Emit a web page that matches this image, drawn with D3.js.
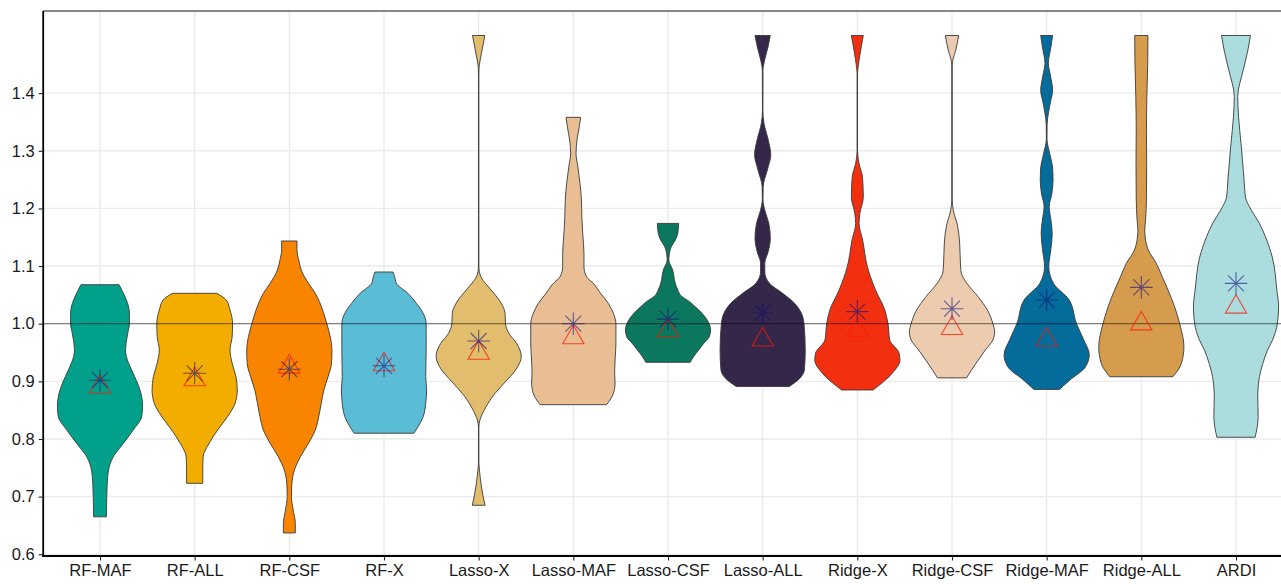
<!DOCTYPE html>
<html>
<head>
<meta charset="utf-8">
<script src="https://cdn.jsdelivr.net/npm/d3@7"></script>
<style>
  body { margin: 0; background: #fff; }
  text { font-family: "Liberation Sans", Arial, sans-serif; }
</style>
</head>
<body>
<svg id="chart" width="1281" height="584"></svg>
<script>
// Models compared, left to right
const categories = ["RF-MAF", "RF-ALL", "RF-CSF", "RF-X", "Lasso-X", "Lasso-MAF", "Lasso-CSF",
                    "Lasso-ALL", "Ridge-X", "Ridge-CSF", "Ridge-MAF", "Ridge-ALL", "ARDI"];
const fillColors = ["#00A08A", "#F2AD00", "#F98400", "#5BBCD6", "#E1BD6D", "#EABE94", "#0B775E",
                    "#35274A", "#F2300F", "#ECCBAE", "#046C9A", "#D69C4E", "#ABDDDE"];
// Mean (asterisk) and median (triangle) of each distribution
const meanValues   = [0.902, 0.914, 0.921, 0.927, 0.970, 1.000, 1.008, 1.019, 1.021, 1.026, 1.041, 1.063, 1.070];
const medianValues = [0.890, 0.903, 0.925, 0.929, 0.949, 0.976, 0.988, 0.972, 0.989, 0.992, 0.972, 1.000, 1.029];
const yTicks = [0.6, 0.7, 0.8, 0.9, 1.0, 1.1, 1.2, 1.3, 1.4];
const referenceValue = 1.0;

// Density profiles: [value, density relative to the widest violin]
const densRfMaf = [[1.0677,0.446],[1.0527,0.55],[1.035,0.65],[1.018,0.69],[1.0,0.69],[0.983,0.65],[0.954,0.6],
  [0.943,0.62],[0.92,0.74],[0.897,0.88],[0.873,0.98],[0.856,1.0],[0.839,0.98],[0.8156,0.78],[0.7925,0.55],
  [0.769,0.31],[0.746,0.2],[0.723,0.17],[0.665,0.15]];
const densRfAll = [[1.0527,0.52],[1.0411,0.74],[1.0238,0.83],[1.0,0.89],[0.9775,0.88],[0.9544,0.83],[0.9313,0.88],
  [0.908,0.97],[0.885,1.0],[0.862,0.95],[0.8387,0.77],[0.8156,0.54],[0.7925,0.34],[0.7693,0.2],[0.7462,0.19],[0.7231,0.19]];
const densRfCsf = [[1.1435,0.18],[1.128,0.18],[1.1105,0.22],[1.093,0.28],[1.07,0.45],[1.0527,0.61],[1.0238,0.78],
  [1.0,0.88],[0.9775,0.96],[0.9544,1.0],[0.9313,0.99],[0.908,0.91],[0.885,0.81],[0.862,0.75],[0.8387,0.69],
  [0.8156,0.61],[0.7925,0.45],[0.7693,0.26],[0.7462,0.12],[0.7231,0.06],[0.70,0.05],[0.6768,0.09],[0.6537,0.14],[0.637,0.14]];
const densRfX = [[1.0897,0.21],[1.0815,0.25],[1.07,0.29],[1.0527,0.56],[1.0354,0.76],[1.018,0.92],[1.0,0.99],
  [0.954,0.99],[0.908,0.98],[0.885,1.0],[0.862,0.98],[0.8387,0.92],[0.8213,0.8],[0.81,0.7]];
const densLassoX = [[1.5,0.145],[1.4749,0.08],[1.4575,0.035],[1.443,0.008],[1.43,0.004],[1.10,0.004],[1.0815,0.05],
  [1.07,0.16],[1.0527,0.36],[1.0354,0.53],[1.018,0.62],[1.0,0.63],[0.983,0.71],[0.966,0.89],[0.943,1.0],[0.92,0.87],
  [0.897,0.6],[0.873,0.32],[0.85,0.13],[0.833,0.03],[0.82,0.004],[0.76,0.004],[0.745,0.02],[0.72,0.06],[0.702,0.1],[0.685,0.15]];
const densLassoMaf = [[1.358,0.17],[1.3418,0.14],[1.3187,0.086],[1.2956,0.063],[1.2724,0.106],[1.2436,0.156],
  [1.2146,0.19],[1.1856,0.2],[1.1568,0.22],[1.1221,0.25],[1.099,0.25],[1.0815,0.31],[1.07,0.47],[1.0527,0.64],
  [1.0354,0.82],[1.018,0.94],[1.0,1.0],[0.966,1.0],[0.937,0.98],[0.914,0.97],[0.897,0.98],[0.879,0.94],[0.8676,0.86],[0.8595,0.78]];
const densLassoCsf = [[1.174,0.25],[1.157,0.23],[1.145,0.17],[1.134,0.08],[1.12,0.03],[1.1105,0.02],[1.093,0.11],
  [1.07,0.17],[1.0585,0.23],[1.0468,0.33],[1.0411,0.45],[1.0295,0.64],[1.018,0.8],[1.0064,0.92],[0.989,1.0],
  [0.9775,0.97],[0.966,0.84],[0.9544,0.72],[0.9428,0.6],[0.933,0.52]];
const densLassoAll = [[1.5,0.18],[1.48,0.125],[1.4575,0.047],[1.44,0.008],[1.37,0.005],[1.348,0.03],[1.319,0.13],
  [1.293,0.19],[1.2667,0.11],[1.2377,0.012],[1.215,0.008],[1.197,0.05],[1.174,0.145],[1.148,0.18],[1.125,0.13],
  [1.105,0.05],[1.09,0.05],[1.07,0.16],[1.0527,0.47],[1.0354,0.75],[1.018,0.91],[1.0,0.97],[0.954,1.0],[0.92,0.98],
  [0.905,0.87],[0.891,0.62]];
const densRidgeX = [[1.5,0.14],[1.475,0.08],[1.446,0.02],[1.434,0.005],[1.30,0.005],[1.278,0.04],[1.255,0.12],
  [1.22,0.14],[1.1915,0.06],[1.174,0.04],[1.145,0.125],[1.099,0.235],[1.058,0.43],[1.0238,0.645],[1.0,0.72],
  [0.972,0.76],[0.949,0.98],[0.937,1.0],[0.914,0.82],[0.885,0.37]];
const densRidgeCsf = [[1.5,0.155],[1.475,0.09],[1.455,0.015],[1.44,0.004],[1.215,0.004],[1.197,0.03],[1.17,0.13],
  [1.14,0.18],[1.10,0.2],[1.0875,0.22],[1.07,0.35],[1.047,0.61],[1.0238,0.83],[1.0,0.96],[0.986,1.0],[0.972,0.96],
  [0.954,0.78],[0.931,0.56],[0.906,0.34]];
const densRidgeMaf = [[1.5,0.14],[1.48,0.1],[1.4518,0.04],[1.43,0.09],[1.405,0.14],[1.385,0.09],[1.365,0.04],
  [1.345,0.01],[1.32,0.008],[1.2956,0.07],[1.27,0.14],[1.2493,0.15],[1.225,0.12],[1.203,0.06],[1.18,0.1],
  [1.1568,0.13],[1.13,0.1],[1.099,0.05],[1.07,0.16],[1.041,0.53],[1.0,0.7],[0.972,0.87],[0.946,1.0],[0.925,0.91],
  [0.902,0.54],[0.886,0.3]];
const densRidgeAll = [[1.5,0.155],[1.452,0.15],[1.394,0.13],[1.336,0.12],[1.278,0.125],[1.22,0.12],[1.18,0.1],
  [1.1626,0.08],[1.145,0.1],[1.128,0.16],[1.105,0.35],[1.0815,0.49],[1.058,0.63],[1.0295,0.78],[1.0,0.9],
  [0.96,1.0],[0.931,0.94],[0.908,0.74]];
const densArdi = [[1.5,0.34],[1.475,0.28],[1.44,0.17],[1.394,0.04],[1.359,0.06],[1.307,0.125],[1.249,0.19],
  [1.22,0.22],[1.197,0.36],[1.174,0.55],[1.151,0.69],[1.116,0.85],[1.058,0.96],[1.0295,1.0],[1.0,0.97],
  [0.972,0.86],[0.954,0.74],[0.931,0.63],[0.908,0.55],[0.873,0.51],[0.839,0.52],[0.803,0.45]];

const profiles = [densRfMaf, densRfAll, densRfCsf, densRfX, densLassoX, densLassoMaf, densLassoCsf,
                  densLassoAll, densRidgeX, densRidgeCsf, densRidgeMaf, densRidgeAll, densArdi];

// ---- layout ----
const panel = { left: 43.2, right: 1292.8, top: 11, bottom: 556 };
const svg = d3.select("#chart");

const x = d3.scalePoint().domain(categories).range([panel.left, panel.right]).padding(0.6);
const y = d3.scaleLinear().domain([0.597, 1.5425]).range([panel.bottom, panel.top]);
const halfWidth = d3.scaleLinear().domain([0, 1]).range([0, 0.45 * x.step()]);

svg.append("rect").attr("width", 1281).attr("height", 584).attr("fill", "#fff");

// grid
const grid = svg.append("g").attr("stroke", "#ebebeb").attr("stroke-width", 1.4);
grid.selectAll("line.h").data(yTicks).join("line")
  .attr("x1", panel.left).attr("x2", panel.right)
  .attr("y1", d => y(d)).attr("y2", d => y(d));
grid.selectAll("line.v").data(categories).join("line")
  .attr("x1", d => x(d)).attr("x2", d => x(d))
  .attr("y1", panel.top).attr("y2", panel.bottom);

// violins
const violins = svg.append("g");
categories.forEach((cat, i) => {
  const cx = x(cat);
  const area = d3.area()
    .curve(d3.curveMonotoneY)
    .y(d => y(d[0]))
    .x0(d => cx - halfWidth(d[1]))
    .x1(d => cx + halfWidth(d[1]));
  violins.append("path")
    .attr("d", area(profiles[i]))
    .attr("fill", fillColors[i])
    .attr("stroke", "#3a3a3a")
    .attr("stroke-width", 0.9)
    .attr("stroke-linejoin", "round");
});

// reference line
svg.append("line")
  .attr("x1", panel.left).attr("x2", panel.right)
  .attr("y1", y(referenceValue)).attr("y2", y(referenceValue))
  .attr("stroke", "#000").attr("stroke-opacity", 0.45).attr("stroke-width", 1.3);

// median triangles
const triR = 12.3;
svg.append("g").selectAll("path").data(categories).join("path")
  .attr("d", (d, i) => {
    const cx = x(d), cy = y(medianValues[i]);
    const hx = triR * Math.sqrt(3) / 2;
    return `M${cx},${cy - triR}L${cx + hx},${cy + triR / 2}L${cx - hx},${cy + triR / 2}Z`;
  })
  .attr("fill", "none").attr("stroke", "#ff1a00").attr("stroke-opacity", 0.75).attr("stroke-width", 1.1);

// mean asterisks
const astR = 11.3, diag = astR * Math.SQRT1_2;
svg.append("g").selectAll("path").data(categories).join("path")
  .attr("d", (d, i) => {
    const cx = x(d), cy = y(meanValues[i]);
    return `M${cx - astR},${cy}H${cx + astR}M${cx},${cy - astR}V${cy + astR}` +
           `M${cx - diag},${cy - diag}L${cx + diag},${cy + diag}M${cx - diag},${cy + diag}L${cx + diag},${cy - diag}`;
  })
  .attr("fill", "none").attr("stroke", "#10107a").attr("stroke-opacity", 0.6).attr("stroke-width", 1.1);

// frame and axes
svg.append("line").attr("x1", panel.left).attr("x2", 1281).attr("y1", panel.top).attr("y2", panel.top)
  .attr("stroke", "#111").attr("stroke-width", 1);
svg.append("line").attr("x1", panel.left).attr("x2", panel.left).attr("y1", panel.top).attr("y2", panel.bottom + 1)
  .attr("stroke", "#000").attr("stroke-width", 1.8);
svg.append("line").attr("x1", panel.left - 0.9).attr("x2", 1281).attr("y1", panel.bottom).attr("y2", panel.bottom)
  .attr("stroke", "#000").attr("stroke-width", 1.8);

const yAxis = svg.append("g").attr("transform", `translate(${panel.left},0)`)
  .call(d3.axisLeft(y).tickValues(yTicks).tickFormat(d3.format(".1f")).tickSize(4.5).tickPadding(4));
yAxis.select(".domain").remove();
yAxis.selectAll("line").attr("stroke", "#222").attr("stroke-width", 1.1);
yAxis.selectAll("text").attr("font-size", 16.5).attr("fill", "#1a1a1a")
  .attr("font-family", '"Liberation Sans", Arial, sans-serif');

const xAxis = svg.append("g").attr("transform", `translate(0,${panel.bottom})`)
  .call(d3.axisBottom(x).tickSize(4.5).tickPadding(4));
xAxis.select(".domain").remove();
xAxis.selectAll("line").attr("stroke", "#222").attr("stroke-width", 1.1);
xAxis.selectAll("text").attr("font-size", 16.5).attr("fill", "#1a1a1a")
  .attr("font-family", '"Liberation Sans", Arial, sans-serif');
</script>
</body>
</html>
